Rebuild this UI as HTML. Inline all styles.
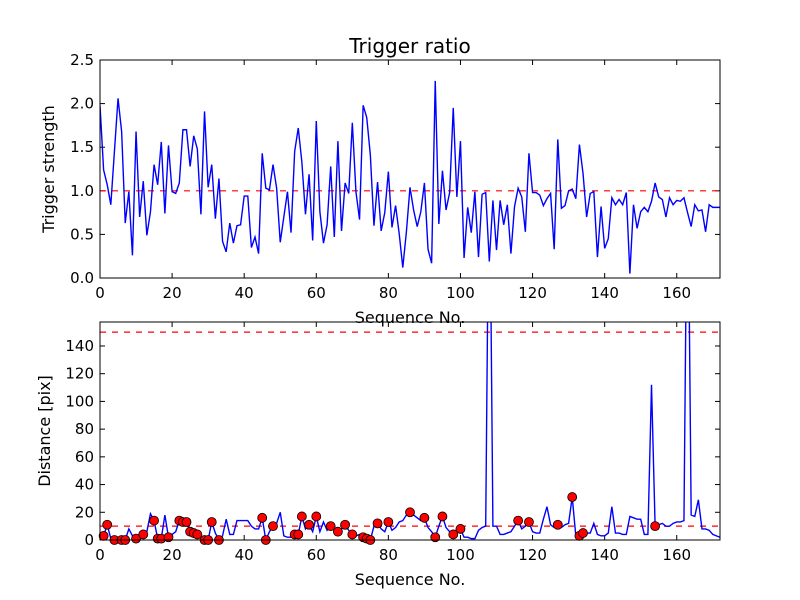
<!DOCTYPE html>
<html><head><meta charset="utf-8"><style>
body{margin:0;background:#fff;}
svg{display:block;font-family:"DejaVu Sans","Liberation Sans",sans-serif;}
</style></head><body>
<svg id="fig" width="800" height="600"></svg>
<script>
const ratioValues=[1.98,1.24,1.07,0.84,1.45,2.06,1.68,0.63,0.99,0.26,1.68,0.70,1.11,0.49,0.76,1.30,1.07,1.56,0.74,1.52,0.99,0.97,1.09,1.70,1.70,1.28,1.63,1.48,0.73,1.91,1.04,1.30,0.68,1.14,0.42,0.30,0.63,0.40,0.60,0.61,0.94,0.94,0.35,0.47,0.28,1.43,1.03,1.01,1.30,1.03,0.41,0.70,0.99,0.52,1.45,1.72,1.33,0.73,1.19,0.43,1.80,0.76,0.40,0.61,1.28,0.47,1.57,0.54,1.09,0.97,1.78,0.99,0.67,1.98,1.84,1.41,0.60,1.10,0.54,0.75,1.22,0.58,0.83,0.51,0.12,0.53,1.04,0.78,0.59,0.76,1.09,0.33,0.17,2.26,0.62,1.23,0.78,0.98,1.95,0.93,1.57,0.23,0.81,0.52,0.99,0.24,0.96,0.98,0.19,0.89,0.32,0.89,0.61,0.84,0.28,0.82,1.03,0.93,0.53,1.43,0.98,0.98,0.95,0.83,0.91,0.97,0.33,1.59,0.80,0.83,1.00,1.02,0.91,1.53,1.20,0.70,0.97,0.99,0.24,0.82,0.34,0.45,0.92,0.84,0.90,0.84,0.98,0.05,0.84,0.57,0.76,0.81,0.76,0.88,1.09,0.93,0.90,0.70,0.92,0.84,0.89,0.88,0.92,0.75,0.59,0.84,0.77,0.78,0.53,0.84,0.81,0.81,0.81];
const distValues=[2,3,11,1,0,1,0,0,8,3,1,2,4,6,19,14,1,1,18,2,4,6,14,13,13,6,5,4,2,0,0,13,5,0,3,15,4,4,14,14,14,14,10,8,8,16,0,6,10,12,20,3,2,2,4,4,17,8,11,6,17,6,13,7,10,8,6,8,11,7,4,3,4,2,1,0,10,12,8,6,13,7,9,13,14,18,20,18,16,14,16,9,6,2,10,17,9,6,4,8,8,2,2,1,1,7,9,10,300,10,10,4,4,5,6,10,14,8,10,13,6,5,5,15,24,11,9,11,9,11,12,31,3,3,5,5,5,12,4,3,3,5,24,5,5,4,4,17,16,15,15,4,4,112,10,11,12,10,10,12,13,13,14,300,18,17,29,8,8,7,4,3,2];
const markerIdx=[1,2,4,6,7,10,12,15,16,17,19,22,23,24,25,26,27,29,30,31,33,45,46,48,54,55,56,58,60,64,66,68,70,73,74,75,77,80,86,90,93,95,98,100,116,119,127,131,133,134,154];
const ratioTicks=["0.0","0.5","1.0","1.5","2.0","2.5"];
const distTicks=["0","20","40","60","80","100","120","140"];
const xTicks=["0","20","40","60","80","100","120","140","160"];
const NS="http://www.w3.org/2000/svg";
const svg=document.getElementById('fig');
function mk(t,a,p){const e=document.createElementNS(NS,t);for(const k in a)e.setAttribute(k,a[k]);(p||svg).appendChild(e);return e;}
const L=100,R=720,XMAX=172;
const sx=i=>L+(R-L)*i/XMAX;
function axes(top,bot,ymax,yTicks,yLabel,name,labOff){
  const sy=v=>bot-(bot-top)*v/ymax;
  const g=mk('g',{});
  
  
  return {g,sy,top,bot,ymax,yTicks,yLabel,labOff};
}
function frame(ax){
  const {g,sy,top,bot,yTicks,yLabel,labOff}=ax;
  const clip='c'+top;
  const cp=mk('clipPath',{id:clip},g);mk('rect',{x:L,y:top,width:R-L,height:bot-top},cp);
  ax.clip=clip;
  xTicks.forEach(t=>{const x=sx(+t);
    mk('line',{x1:x,x2:x,y1:bot,y2:bot-5,stroke:'#000'},g);
    mk('line',{x1:x,x2:x,y1:top,y2:top+5,stroke:'#000'},g);
    const tx=mk('text',{x:x,y:bot+20,'font-size':15,'text-anchor':'middle'},g);tx.textContent=t;
    
    
  });
  yTicks.forEach(t=>{const y=sy(+t);
    mk('line',{x1:L,x2:L+5,y1:y,y2:y,stroke:'#000'},g);
    mk('line',{x1:R,x2:R-5,y1:y,y2:y,stroke:'#000'},g);
    const tx=mk('text',{x:L-6,y:y+5,'font-size':15,'text-anchor':'end'},g);tx.textContent=t;
    
    
  });
  const yl=mk('text',{x:0,y:0,'font-size':16,'text-anchor':'middle',transform:`translate(${L-labOff},${(top+bot)/2}) rotate(-90)`},g);yl.textContent=yLabel;
  
  
  const xl=mk('text',{x:(L+R)/2,y:bot+45,'font-size':16,'text-anchor':'middle'},g);xl.textContent='Sequence No.';
  
  
}
function border(ax){mk('rect',{x:L,y:ax.top,width:R-L,height:ax.bot-ax.top,fill:'none',stroke:'#000','stroke-width':1},ax.g);}
function hline(ax,v){const l=mk('line',{x1:L,x2:R,y1:ax.sy(v),y2:ax.sy(v),stroke:'#f00','stroke-dasharray':'6,6','stroke-width':1.2,'clip-path':`url(#${ax.clip})`},ax.g);
  
  }
function series(ax,vals){const p=mk('polyline',{points:vals.map((v,i)=>sx(i)+','+ax.sy(v)).join(' '),fill:'none',stroke:'#00f','stroke-width':1.4,'clip-path':`url(#${ax.clip})`},ax.g);
  
  }
const title=mk('text',{x:410,y:53,'font-size':20,'text-anchor':'middle'});title.textContent='Trigger ratio';


const a1=axes(60,278,2.5,ratioTicks,'Trigger strength','ratio-axes',46);
frame(a1);hline(a1,1.0);series(a1,ratioValues);border(a1);
const a2=axes(322,540,157.3,distTicks,'Distance [pix]','distance-axes',50);
frame(a2);hline(a2,10);hline(a2,150);series(a2,distValues);
markerIdx.forEach(i=>{const c=mk('circle',{cx:sx(i),cy:a2.sy(distValues[i]),r:4.5,fill:'#f00',stroke:'#000','stroke-width':0.8},a2.g);
  
  });
border(a2);
</script>
</body></html>
